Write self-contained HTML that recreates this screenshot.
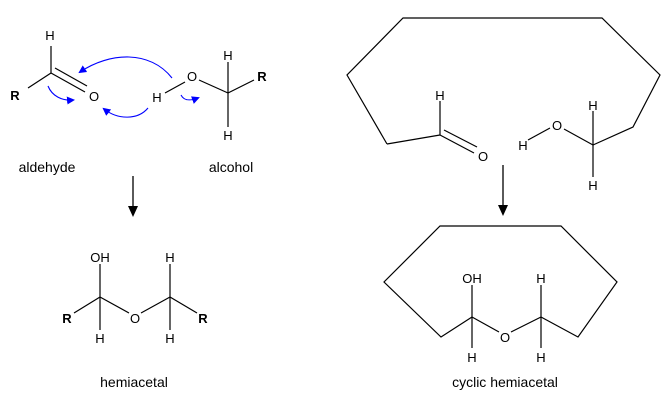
<!DOCTYPE html>
<html><head><style>
html,body{margin:0;padding:0;background:#fff;}
svg{display:block;}
text{font-family:"Liberation Sans",Arial,sans-serif;font-size:13px;fill:#000;}
.b{font-weight:bold;}
.l{font-size:14px;}
</style></head><body>
<svg width="671" height="413" viewBox="0 0 671 413" xmlns="http://www.w3.org/2000/svg">
<defs>
<marker id="ab" markerWidth="8" markerHeight="8" refX="6" refY="4" orient="auto" markerUnits="userSpaceOnUse"><path d="M0,0 L8,4 L0,8 Z" fill="#0000ff"/></marker>
</defs>
<g stroke="#000" stroke-width="1.2" fill="none">
<!-- aldehyde -->
<line x1="28" y1="88" x2="51" y2="73"/>
<line x1="51" y1="73" x2="51" y2="46"/>
<line x1="51" y1="73" x2="85" y2="92"/>
<line x1="55" y1="68" x2="87" y2="86"/>
<!-- alcohol -->
<line x1="165" y1="93" x2="185" y2="82"/>
<line x1="199" y1="80" x2="228" y2="93"/>
<line x1="228" y1="62" x2="228" y2="127"/>
<line x1="228" y1="93" x2="254" y2="80"/>
<!-- hemiacetal -->
<line x1="74" y1="313" x2="100" y2="297"/>
<line x1="100" y1="264" x2="100" y2="330"/>
<line x1="100" y1="297" x2="129" y2="313"/>
<line x1="141" y1="313" x2="170" y2="297"/>
<line x1="170" y1="264" x2="170" y2="330"/>
<line x1="170" y1="297" x2="197" y2="313"/>
<!-- cyclic top -->
<polyline points="387,144 347,75 403,18 602,18 660,75 633,127 593,145"/>
<line x1="387" y1="144" x2="440" y2="135"/>
<line x1="440" y1="135" x2="440" y2="101"/>
<line x1="440" y1="135" x2="474" y2="153"/>
<line x1="444" y1="130" x2="477" y2="147"/>
<line x1="528" y1="140" x2="550" y2="128"/>
<line x1="564" y1="129" x2="593" y2="145"/>
<line x1="593" y1="111" x2="593" y2="177"/>
<!-- cyclic bottom -->
<polyline points="472,317 441,337 384,282 440,226 561,226 617,282 578,337 541,317"/>
<line x1="472" y1="285" x2="472" y2="348"/>
<line x1="472" y1="317" x2="499" y2="332"/>
<line x1="511" y1="332" x2="541" y2="317"/>
<line x1="541" y1="285" x2="541" y2="348"/>
</g>
<!-- reaction arrows -->
<g stroke="#000" stroke-width="1.3">
<line x1="133" y1="176" x2="133" y2="208"/>
<line x1="503" y1="165" x2="503" y2="207"/>
</g>
<path d="M128,206 L133,217 L138,206 Z"/>
<path d="M498,205 L503,216 L508,205 Z"/>
<!-- blue curly arrows -->
<g stroke="#0000ff" stroke-width="1.1" fill="none" marker-end="url(#ab)">
<path d="M172,78 C150,50 110,52 80,72"/>
<path d="M48,86 C52,96 62,101 73,100"/>
<path d="M148,108 C138,120 118,120 104,109"/>
<path d="M181,95 C184,101 190,101 198,98"/>
</g>
<!-- atom labels -->
<g text-anchor="middle">
<text x="50" y="40">H</text>
<text x="15" y="100" class="b">R</text>
<text x="94" y="101">O</text>
<text x="157" y="102">H</text>
<text x="192" y="81">O</text>
<text x="228" y="60">H</text>
<text x="262" y="81" class="b">R</text>
<text x="228" y="140">H</text>
<text x="100" y="262">OH</text>
<text x="67" y="323" class="b">R</text>
<text x="100" y="343">H</text>
<text x="135" y="323">O</text>
<text x="170" y="262">H</text>
<text x="203" y="323" class="b">R</text>
<text x="170" y="343">H</text>
<text x="440" y="100">H</text>
<text x="483" y="161">O</text>
<text x="523" y="150">H</text>
<text x="557" y="130">O</text>
<text x="593" y="110">H</text>
<text x="593" y="190">H</text>
<text x="472" y="283">OH</text>
<text x="472" y="362">H</text>
<text x="505" y="342">O</text>
<text x="541" y="283">H</text>
<text x="541" y="362">H</text>
<text x="47" y="172" class="l">aldehyde</text>
<text x="231" y="172" class="l">alcohol</text>
<text x="134" y="387" class="l">hemiacetal</text>
<text x="505" y="387" class="l">cyclic hemiacetal</text>
</g>
</svg>
</body></html>
